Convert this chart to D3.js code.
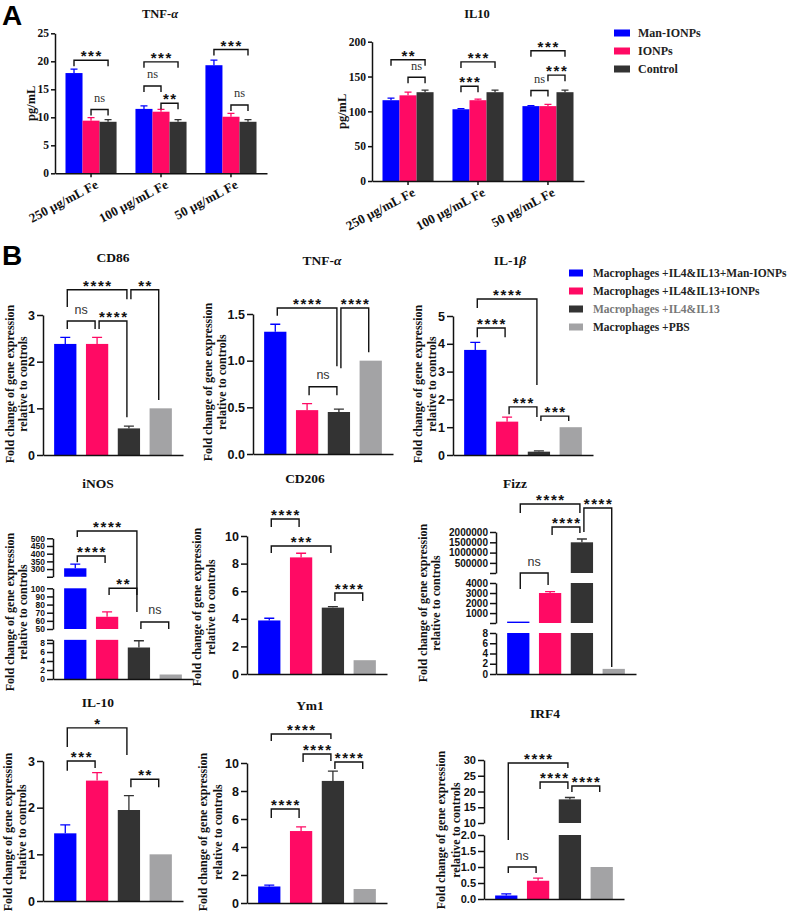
<!DOCTYPE html>
<html><head><meta charset="utf-8">
<script src="https://cdn.jsdelivr.net/npm/d3@7"></script>
<style>body{margin:0;background:#fff} svg{display:block}</style>
</head><body>
<svg id="chart" width="789" height="915"></svg>
<script>
// ================= DATA =================
// ---- Panel A ----
const seriesA = ["Man-IONPs", "IONPs", "Control"];
const dosesA = ["250 μg/mL Fe", "100 μg/mL Fe", "50 μg/mL Fe"];
const tnfAMan = [17.9, 11.5, 19.3];
const tnfAIONPs = [9.4, 11.0, 10.1];
const tnfAControl = [9.2, 9.2, 9.2];
const tnfAManErr = [0.7, 0.55, 0.9];
const tnfAIONPsErr = [0.55, 0.4, 0.6];
const tnfAControlErr = [0.4, 0.4, 0.4];
const tnfATicks = [0, 5, 10, 15, 20, 25];
// [dose index, series a, series b, bracket height, label]
const tnfASig = [[0,0,2,20.2,"***"],[0,1,2,11.4,"ns"],[1,0,2,19.9,"***"],[1,0,1,15.6,"ns"],[1,1,2,12.5,"**"],[2,0,2,22.1,"***"],[2,1,2,12.2,"ns"]];

const il10AMan = [116, 103, 107.5];
const il10AIONPs = [123, 116, 107.5];
const il10AControl = [127.5, 127.5, 127.5];
const il10AManErr = [3, 1, 0.8];
const il10AIONPsErr = [4.5, 1.5, 2.5];
const il10AControlErr = [3, 3, 3];
const il10ATicks = [0, 50, 100, 150, 200];
const il10ASig = [[0,0,2,174,"**"],[0,1,2,149,"ns"],[1,0,2,171,"***"],[1,0,1,136,"***"],[2,0,2,187,"***"],[2,1,2,152,"***"],[2,0,1,130,"ns"]];

// ---- Panel B ----
const groupsB = ["Macrophages +IL4&IL13+Man-IONPs", "Macrophages +IL4&IL13+IONPs", "Macrophages +IL4&IL13", "Macrophages +PBS"];
// [bar a, bar b, bracket height, left leg end, right leg end, label]
const cd86 = [2.38, 2.38, 0.57, 1.0];
const cd86Err = [0.14, 0.14, 0.05, 0];
const cd86Ticks = [[0, 1, 2, 3]];
const cd86Sig = [[0,2,3.54,3.17,3.34,"****"],[2,3,3.54,3.34,1.18,"**"],[0,1,2.87,2.70,2.70,"ns"],[1,2,2.87,2.70,0.81,"****"]];

const tnfB = [1.31, 0.47, 0.45, 1.0];
const tnfBErr = [0.08, 0.07, 0.03, 0];
const tnfBTicks = [[0, 0.5, 1.0, 1.5]];
const tnfBSig = [[0,2,1.564,1.48,0.94,"****"],[2,3,1.564,0.92,1.09,"****"],[1,2,0.72,0.63,0.63,"ns"]];

const il1b = [3.78, 1.2, 0.12, 1.0];
const il1bErr = [0.27, 0.16, 0.03, 0];
const il1bTicks = [[0, 1, 2, 3, 4, 5]];
const il1bSig = [[0,2,5.61,5.29,2.52,"****"],[0,1,4.57,4.24,4.24,"****"],[1,2,1.73,1.47,1.37,"***"],[2,3,1.40,1.22,1.22,"***"]];

const inos = [305, 65, 7.0, 1.0];
const inosErr = [27, 6, 1.5, 0];
const inosBreaks = [[0, 8.7], [50, 100], [250, 500]];
const inosTicks = [[0, 2, 4, 6, 8], [50, 60, 70, 80, 90, 100], [300, 350, 400, 450, 500]];
const inosSig = [[0,2,547,508,70.9,"****"],[0,1,385,345,339,"****"],[1,2,100.5,91.8,91.8,"**"],[2,3,58.6,50,50,"ns"]];

const cd206 = [3.88, 8.45, 4.81, 1.0];
const cd206Err = [0.16, 0.3, 0.07, 0];
const cd206Ticks = [[0, 2, 4, 6, 8, 10]];
const cd206Sig = [[0,1,11.23,10.65,10.65,"****"],[0,2,9.28,8.77,8.77,"***"],[2,3,5.87,5.29,5.29,"****"]];

const fizz = [150, 3000, 1500000, 1.0];
const fizzErr = [0, 130, 160000, 0];
const fizzBreaks = [[0, 8], [10, 4000], [10000, 2000000]];
const fizzTicks = [[0, 2, 4, 6, 8], [1000, 2000, 3000, 4000], [500000, 1000000, 1500000, 2000000]];
const fizzSig = [[0,2,3359000,2922000,2922000,"****"],[1,2,2243000,1854000,1951000,"****"],[2,3,3165000,2000000,1.37,"****"],[0,1,10000,3402,3800,"ns"]];

const il10B = [1.45, 2.58, 1.95, 1.0];
const il10BErr = [0.18, 0.17, 0.31, 0];
const il10BTicks = [[0, 1, 2, 3]];
const il10BSig = [[0,2,3.71,3.30,3.13,"*"],[0,1,3.0,2.79,2.85,"***"],[2,3,2.61,2.44,2.44,"**"]];

const ym1 = [1.18, 5.14, 8.72, 1.0];
const ym1Err = [0.1, 0.3, 0.7, 0];
const ym1Ticks = [[0, 2, 4, 6, 8, 10]];
const ym1Sig = [[0,2,12.07,11.57,11.71,"****"],[1,2,10.64,10.07,10.14,"****"],[2,3,10.07,9.57,9.57,"****"],[0,1,6.71,6.07,6.07,"****"]];

const irf4 = [0.11, 0.57, 17.5, 1.0];
const irf4Err = [0.05, 0.08, 0.6, 0];
const irf4Breaks = [[0, 2], [10, 30]];
const irf4Ticks = [[0, 0.5, 1.0, 1.5, 2.0], [10, 15, 20, 25, 30]];
const irf4Sig = [[0,2,29.05,1.84,27.46,"****"],[1,2,23.0,20.8,20.8,"****"],[2,3,21.75,19.84,19.84,"****"],[0,1,1.0,0.81,0.81,"ns"]];

// ================= STYLE / LAYOUT =================
const SERIF = "'Liberation Serif','Times New Roman',serif";
const SANS = "'Liberation Sans',Arial,sans-serif";
const colorsA = ["#0000ff", "#ff0a64", "#333333"];
const colorsB = ["#0000ff", "#ff0a64", "#333333", "#a3a3a5"];
const INK = "#111";
const svg = d3.select("#chart");

function styleAxis(sel, font, size) {
  sel.attr("font-family", font).attr("font-size", size);
  sel.select(".domain").attr("stroke", INK).attr("stroke-width", 1.5);
  sel.selectAll(".tick line").attr("stroke", INK).attr("stroke-width", 1.5);
  sel.selectAll(".tick text").attr("font-weight", "bold").attr("fill", INK);
}

function sigLabel(g, cx, yLine, label, serifNs) {
  if (label === "ns") {
    g.append("text").attr("x", cx).attr("y", yLine - 7.5).attr("text-anchor", "middle")
      .attr("font-family", serifNs ? SERIF : SANS).attr("font-size", 12.5).attr("fill", "#333").text("ns");
  } else {
    g.append("text").attr("x", cx + 0.8).attr("y", yLine + 1).attr("text-anchor", "middle")
      .attr("font-family", SANS).attr("font-weight", "bold").attr("font-size", 15)
      .style("letter-spacing", "1.6px").attr("fill", INK).text(label);
  }
}

function bracket(g, xa, xb, yLine, yL, yR) {
  g.append("path").attr("d", `M${xa},${yL}V${yLine}H${xb}V${yR}`)
    .attr("fill", "none").attr("stroke", INK).attr("stroke-width", 1.4);
}

// ---------- Panel A ----------
const panelsA = [
  { ax: 55, y0: 173.3, y1: 33.3, domain: [0, 25], ticks: tnfATicks, vals: [tnfAMan, tnfAIONPs, tnfAControl], errs: [tnfAManErr, tnfAIONPsErr, tnfAControlErr], sig: tnfASig, title: ["TNF-", "α"], tx: 160, ty: 17.5, lx: 31 },
  { ax: 372, y0: 181, y1: 41.7, domain: [0, 200], ticks: il10ATicks, vals: [il10AMan, il10AIONPs, il10AControl], errs: [il10AManErr, il10AIONPsErr, il10AControlErr], sig: il10ASig, title: ["IL10", ""], tx: 477, ty: 18, lx: 342 }
];

panelsA.forEach(p => {
  const g = svg.append("g");
  const x0 = d3.scaleBand().domain(dosesA).range([p.ax, p.ax + 212]).paddingInner(0.27).paddingOuter(0.15);
  const x1 = d3.scaleBand().domain(seriesA).range([0, x0.bandwidth()]);
  const y = d3.scaleLinear().domain(p.domain).range([p.y0, p.y1]);
  p.vals.forEach((vals, s) => {
    vals.forEach((v, gi) => {
      const bx = x0(dosesA[gi]) + x1(seriesA[s]);
      g.append("rect").attr("x", bx).attr("width", x1.bandwidth()).attr("y", y(v)).attr("height", y(0) - y(v)).attr("fill", colorsA[s]);
      const e = p.errs[s][gi];
      const cx = bx + x1.bandwidth() / 2;
      g.append("path").attr("d", `M${cx},${y(v)}V${y(v + e)}M${cx - 3.5},${y(v + e)}H${cx + 3.5}`)
        .attr("stroke", colorsA[s]).attr("stroke-width", 1.3).attr("fill", "none");
    });
  });
  const ya = g.append("g").attr("transform", `translate(${p.ax},0)`)
    .call(d3.axisLeft(y).tickValues(p.ticks).tickSize(4).tickPadding(2).tickSizeOuter(0));
  styleAxis(ya, SERIF, 11.5);
  const xa = g.append("g").attr("transform", `translate(0,${p.y0})`)
    .call(d3.axisBottom(x0).tickSize(4).tickSizeOuter(0));
  styleAxis(xa, SERIF, 13);
  xa.selectAll(".tick text").attr("x", 0).attr("y", 0).attr("dy", 0).attr("text-anchor", "end")
    .attr("transform", "translate(8,14) rotate(-28)");
  // brackets
  p.sig.forEach(([gi, a, b, h, label]) => {
    const xa1 = x0(dosesA[gi]) + x1(seriesA[a]) + x1.bandwidth() / 2;
    const xb1 = x0(dosesA[gi]) + x1(seriesA[b]) + x1.bandwidth() / 2;
    const yl = y(h);
    bracket(g, xa1, xb1, yl, yl + 6, yl + 6);
    sigLabel(g, (xa1 + xb1) / 2, yl, label, true);
  });
  const t = g.append("text").attr("x", p.tx).attr("y", p.ty).attr("text-anchor", "middle")
    .attr("font-family", SERIF).attr("font-weight", "bold").attr("font-size", 12.5).attr("fill", INK);
  t.append("tspan").text(p.title[0]);
  if (p.title[1]) t.append("tspan").attr("font-style", "italic").text(p.title[1]);
  g.append("text").attr("transform", `translate(${p.lx},${(p.y0 + p.y1) / 2}) rotate(-90)`)
    .attr("text-anchor", "middle").attr("dominant-baseline", "central")
    .attr("font-family", SERIF).attr("font-weight", "bold").attr("font-size", 12.5).attr("fill", INK).text("pg/mL");
});

// Legend A
seriesA.forEach((s, i) => {
  const ly = 33 + i * 18;
  svg.append("rect").attr("x", 614).attr("y", ly - 3.5).attr("width", 16).attr("height", 7).attr("fill", colorsA[i]);
  svg.append("text").attr("x", 638).attr("y", ly + 4).attr("font-family", SERIF).attr("font-weight", "bold")
    .attr("font-size", 12).attr("fill", "#222").text(s);
});

// ---------- Panel B ----------
const panelsB = [
  { vals: cd86, errs: cd86Err, ticks: cd86Ticks, sig: cd86Sig, breaks: [[0, 3]], ranges: [[455, 315]], ax: 43, fmt: "d", tfs: 12.5, title: ["CD86", ""], tx: 113, ty: 261.5, lab: [10, 23, 384] },
  { vals: tnfB, errs: tnfBErr, ticks: tnfBTicks, sig: tnfBSig, breaks: [[0, 1.5]], ranges: [[454, 314]], ax: 253, fmt: ".1f", tfs: 12.5, title: ["TNF-", "α"], tx: 322, ty: 264.5, lab: [207.5, 222, 382] },
  { vals: il1b, errs: il1bErr, ticks: il1bTicks, sig: il1bSig, breaks: [[0, 5]], ranges: [[455, 316]], ax: 453, fmt: "d", tfs: 12.5, title: ["IL-1", "β"], tx: 510, ty: 265, lab: [417.5, 432, 384] },
  { vals: inos, errs: inosErr, ticks: inosTicks, sig: inosSig, breaks: inosBreaks, ranges: [[679, 639.85], [629, 588.3], [576.75, 538.3]], ax: 53, fmt: "d", tfs: 8.5, title: ["iNOS", ""], tx: 98, ty: 487.5, lab: [10, 23, 612] },
  { vals: cd206, errs: cd206Err, ticks: cd206Ticks, sig: cd206Sig, breaks: [[0, 10]], ranges: [[674, 536]], ax: 247, fmt: "d", tfs: 12.5, title: ["CD206", ""], tx: 305, ty: 483, lab: [197, 210.5, 607] },
  { vals: fizz, errs: fizzErr, ticks: fizzTicks, sig: fizzSig, breaks: fizzBreaks, ranges: [[674, 633], [623, 583], [573, 532]], ax: 496, fmt: "d", tfs: 10, title: ["Fizz", ""], tx: 515, ty: 488, lab: [422.5, 436, 603] },
  { vals: il10B, errs: il10BErr, ticks: il10BTicks, sig: il10BSig, breaks: [[0, 3]], ranges: [[901, 761]], ax: 43, fmt: "d", tfs: 12.5, title: ["IL-10", ""], tx: 98, ty: 707, lab: [7.5, 21.5, 832] },
  { vals: ym1, errs: ym1Err, ticks: ym1Ticks, sig: ym1Sig, breaks: [[0, 10]], ranges: [[903, 763]], ax: 247, fmt: "d", tfs: 12.5, title: ["Ym1", ""], tx: 310, ty: 710, lab: [203, 217.5, 832] },
  { vals: irf4, errs: irf4Err, ticks: irf4Ticks, sig: irf4Sig, breaks: irf4Breaks, ranges: [[899, 835], [823, 760]], ax: 484, fmt: null, tfs: 11, title: ["IRF4", ""], tx: 545, ty: 718, lab: [441, 456, 830] }
];

panelsB.forEach((p, pi) => {
  const g = svg.append("g");
  const x = d3.scaleBand().domain(groupsB).range([p.ax, p.ax + 140]).paddingInner(0.3).paddingOuter(0.35);
  const bw = x.bandwidth();
  const y = d3.scaleLinear().domain(p.breaks.flat()).range(p.ranges.flat());
  // bars (split over axis segments)
  p.vals.forEach((v, i) => {
    p.breaks.forEach(seg => {
      if (v > seg[0]) {
        const top = Math.min(v, seg[1]);
        g.append("rect").attr("x", x(groupsB[i])).attr("width", bw).attr("y", y(top))
          .attr("height", Math.max(0.8, y(seg[0]) - y(top))).attr("fill", colorsB[i]);
      }
    });
    const e = p.errs[i];
    if (e > 0) {
      const cx = x(groupsB[i]) + bw / 2;
      g.append("path").attr("d", `M${cx},${y(v)}V${y(v + e)}M${cx - 5},${y(v + e)}H${cx + 5}`)
        .attr("stroke", colorsB[i]).attr("stroke-width", 1.3).attr("fill", "none");
    }
  });
  // y axis segments
  p.breaks.forEach((seg, k) => {
    const labeled = p.ticks[k];
    const all = labeled.slice();
    seg.forEach(v => { if (!all.includes(v)) all.push(v); });
    const sy = d3.scaleLinear().domain(seg).range(p.ranges[k]);
    const f = p.fmt ? d3.format(p.fmt) : (p.breaks.length > 1 && k === 0 ? d3.format(".1f") : d3.format("d"));
    const ya = g.append("g").attr("transform", `translate(${p.ax},0)`)
      .call(d3.axisLeft(sy).tickValues(all).tickSize(6).tickPadding(2).tickSizeOuter(0)
        .tickFormat(v => labeled.includes(v) ? f(v) : ""));
    styleAxis(ya, SANS, p.tfs);
  });
  // x axis line
  const xa = g.append("g").attr("transform", `translate(0,${p.ranges[0][0]})`)
    .call(d3.axisBottom(x).tickSize(0).tickSizeOuter(0).tickFormat(""));
  styleAxis(xa, SANS, 10);
  // brackets
  p.sig.forEach(([a, b, h, hl, hr, label]) => {
    const xa1 = x(groupsB[a]) + bw / 2 + 2;
    const xb1 = x(groupsB[b]) + bw / 2 - 2;
    bracket(g, xa1, xb1, y(h), y(hl), y(hr));
    sigLabel(g, (xa1 + xb1) / 2, y(h), label, false);
  });
  // title
  const t = g.append("text").attr("x", p.tx).attr("y", p.ty).attr("text-anchor", "middle")
    .attr("font-family", SERIF).attr("font-weight", "bold").attr("font-size", 13.5).attr("fill", INK);
  t.append("tspan").text(p.title[0]);
  if (p.title[1]) t.append("tspan").attr("font-style", "italic").text(p.title[1]);
  // y label
  ["Fold change of gene expression", "relative to controls"].forEach((s, li) => {
    g.append("text").attr("transform", `translate(${p.lab[li]},${p.lab[2]}) rotate(-90)`)
      .attr("text-anchor", "middle").attr("dominant-baseline", "central")
      .attr("font-family", SERIF).attr("font-weight", "bold").attr("font-size", 12).attr("fill", INK).text(s);
  });
});

// Legend B
const legendBColors = ["#222", "#222", "#777", "#222"];
groupsB.forEach((s, i) => {
  const ly = 273 + i * 18;
  svg.append("rect").attr("x", 569).attr("y", ly - 3.5).attr("width", 14).attr("height", 7).attr("fill", colorsB[i]);
  svg.append("text").attr("x", 593).attr("y", ly + 4).attr("font-family", SERIF).attr("font-weight", "bold")
    .attr("font-size", 11.5).attr("fill", legendBColors[i]).text(s);
});

// Panel letters
svg.append("text").attr("x", 2).attr("y", 25).attr("font-family", SANS).attr("font-weight", "bold").attr("font-size", 28).attr("fill", "#000").text("A");
svg.append("text").attr("x", 2).attr("y", 265).attr("font-family", SANS).attr("font-weight", "bold").attr("font-size", 28).attr("fill", "#000").text("B");
</script>
</body></html>
